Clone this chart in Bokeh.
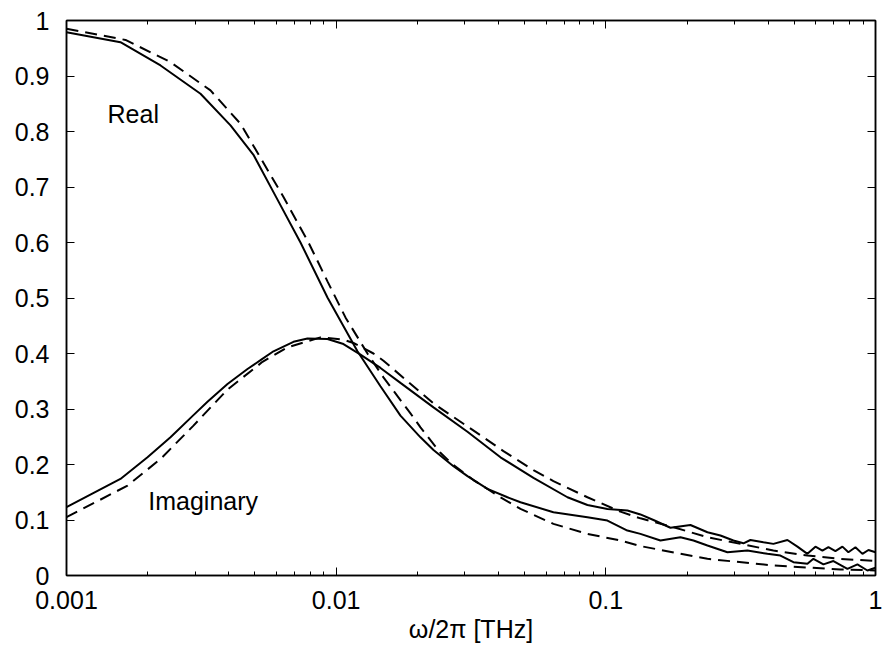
from bokeh.plotting import figure
from bokeh.models import (Range1d, LogAxis, LinearAxis, FixedTicker, Label)
from bokeh.embed import file_html
from bokeh.resources import INLINE

# ---- data ----
real_meas_f = [0.001, 0.001585, 0.002232, 0.00314, 0.004057, 0.004935, 0.005956, 0.007374,
               0.009284, 0.011995, 0.014597, 0.017313, 0.020544, 0.022956, 0.027223, 0.030683,
               0.036392, 0.043173, 0.04825, 0.063922, 0.085467, 0.101368, 0.120228, 0.13434,
               0.159377, 0.189098, 0.21128, 0.238121, 0.2824, 0.334965, 0.397371, 0.444034,
               0.49624, 0.559142, 0.588609, 0.641029, 0.69819, 0.786841, 0.856971, 0.933254, 1.0]
real_meas = [0.979, 0.961, 0.919, 0.868, 0.811, 0.758, 0.684, 0.600,
             0.501, 0.404, 0.341, 0.288, 0.249, 0.226, 0.197, 0.179,
             0.156, 0.141, 0.132, 0.114, 0.105, 0.099, 0.081, 0.075,
             0.063, 0.069, 0.063, 0.054, 0.042, 0.045, 0.039, 0.036,
             0.024, 0.021, 0.030, 0.020, 0.026, 0.012, 0.020, 0.009, 0.014]

imag_meas_f = [0.001, 0.001585, 0.001997, 0.00243, 0.002957, 0.003333, 0.003954, 0.00469,
               0.005242, 0.005855, 0.006945, 0.007827, 0.009284, 0.010643, 0.012307, 0.014597,
               0.017313, 0.022956, 0.030683, 0.040666, 0.0539, 0.072064, 0.085467, 0.101368,
               0.120228, 0.13434, 0.15017, 0.17363, 0.205939, 0.238121, 0.26603, 0.29722,
               0.32381, 0.343696, 0.384, 0.418196, 0.471423, 0.513432, 0.559142, 0.59877,
               0.63558, 0.66902, 0.71009, 0.75397, 0.79342, 0.84247, 0.8945, 0.94159, 1.0]
imag_meas = [0.123, 0.174, 0.213, 0.249, 0.289, 0.313, 0.345, 0.372,
             0.388, 0.404, 0.421, 0.427, 0.426, 0.417, 0.398, 0.374,
             0.347, 0.303, 0.259, 0.213, 0.176, 0.141, 0.127, 0.120,
             0.117, 0.110, 0.100, 0.086, 0.091, 0.078, 0.072, 0.063,
             0.058, 0.064, 0.060, 0.057, 0.064, 0.052, 0.039, 0.052,
             0.045, 0.051, 0.044, 0.052, 0.042, 0.051, 0.039, 0.046, 0.042]

real_model_f = [0.001, 0.001655, 0.00243, 0.00342, 0.004418, 0.006378, 0.007894, 0.009284,
                0.010826, 0.013064, 0.014975, 0.018862, 0.020544, 0.024362, 0.027223, 0.03229,
                0.036392, 0.040666, 0.04825, 0.063922, 0.085467, 0.113249, 0.13434, 0.238121,
                0.418196, 0.741243, 1.0]
real_model = [0.985, 0.965, 0.925, 0.874, 0.814, 0.682, 0.600, 0.530,
              0.465, 0.400, 0.357, 0.292, 0.267, 0.221, 0.199, 0.172,
              0.156, 0.141, 0.120, 0.093, 0.075, 0.063, 0.053, 0.030,
              0.018, 0.011, 0.009]

imag_model_f = [0.001, 0.001684, 0.002232, 0.002957, 0.00363, 0.003954, 0.005332, 0.006599,
                0.008747, 0.010643, 0.011589, 0.013749, 0.014975, 0.022956, 0.028907, 0.03517,
                0.04172, 0.0539, 0.063922, 0.085467, 0.113249, 0.13434, 0.178077, 0.238121,
                0.315574, 0.418196, 0.559142, 0.741243, 1.0]
imag_model = [0.105, 0.162, 0.210, 0.270, 0.316, 0.335, 0.385, 0.411,
              0.429, 0.425, 0.419, 0.400, 0.387, 0.310, 0.277, 0.249,
              0.224, 0.190, 0.170, 0.141, 0.115, 0.103, 0.087, 0.069,
              0.057, 0.045, 0.036, 0.030, 0.026]

x_ticks = [0.001, 0.01, 0.1, 1]
x_tick_labels = ["0.001", "0.01", "0.1", "1"]
y_ticks = [0, 0.1, 0.2, 0.3, 0.4, 0.5, 0.6, 0.7, 0.8, 0.9, 1.0]
y_tick_labels = ["0", "0.1", "0.2", "0.3", "0.4", "0.5", "0.6", "0.7", "0.8", "0.9", "1"]
x_minor = [m * d for d in [0.001, 0.01, 0.1] for m in range(2, 10)]

labels_text = ["Real", "Imaginary"]
labels_x = [0.00142, 0.00201]
labels_y = [0.832, 0.135]

FONT = "Liberation Sans"
FS = "25px"

p = figure(width=884, height=661, x_axis_type="log",
           x_range=Range1d(0.001, 1), y_range=Range1d(0, 1),
           output_backend="svg", toolbar_location=None,
           min_border_left=66, min_border_right=9, min_border_top=20, min_border_bottom=86)
p.xgrid.visible = False
p.ygrid.visible = False
p.outline_line_color = "black"
p.outline_line_width = 1.5
p.background_fill_color = "white"
p.border_fill_color = "white"

xt = FixedTicker(ticks=x_ticks, minor_ticks=x_minor)
yt = FixedTicker(ticks=y_ticks, minor_ticks=[])

def style(ax, labels=True):
    ax.axis_line_color = "black"
    ax.axis_line_width = 1.5
    ax.major_tick_in = 8
    ax.major_tick_out = 0
    ax.minor_tick_in = 4
    ax.minor_tick_out = 0
    ax.major_tick_line_width = 1
    ax.minor_tick_line_width = 1
    ax.major_tick_line_color = "black"
    ax.minor_tick_line_color = "black"
    if labels:
        ax.major_label_text_font = FONT
        ax.major_label_text_font_size = FS
        ax.major_label_text_color = "black"
    else:
        ax.major_label_text_font_size = "1px"
        ax.major_label_text_alpha = 0
        ax.major_label_standoff = 0

xa = p.xaxis[0]
xa.ticker = xt
xa.major_label_overrides = {t: l for t, l in zip(x_ticks, x_tick_labels)}
style(xa)
xa.major_label_standoff = 15
xa.axis_label = "ω/2π [THz]"
xa.axis_label_text_font = FONT
xa.axis_label_text_font_size = FS
xa.axis_label_text_font_style = "normal"
xa.axis_label_text_color = "black"
xa.axis_label_standoff = 3

ya = p.yaxis[0]
ya.ticker = yt
ya.major_label_overrides = {t: l for t, l in zip(y_ticks, y_tick_labels)}
style(ya)
ya.major_label_standoff = 17

top = LogAxis(ticker=FixedTicker(ticks=x_ticks, minor_ticks=x_minor))
style(top, labels=False)
p.add_layout(top, "above")
right = LinearAxis(ticker=FixedTicker(ticks=y_ticks, minor_ticks=[]))
style(right, labels=False)
p.add_layout(right, "right")

p.line(real_meas_f, real_meas, line_color="black", line_width=2)
p.line(imag_meas_f, imag_meas, line_color="black", line_width=2)
p.line(real_model_f, real_model, line_color="black", line_width=2, line_dash="12 7")
p.line(imag_model_f, imag_model, line_color="black", line_width=2, line_dash="12 7")

for t, lx, ly in zip(labels_text, labels_x, labels_y):
    p.add_layout(Label(x=lx, y=ly, text=t, text_font=FONT, text_font_size=FS,
                       text_color="black", text_baseline="alphabetic", text_align="left"))

open("out.html", "w").write(file_html(p, INLINE))
